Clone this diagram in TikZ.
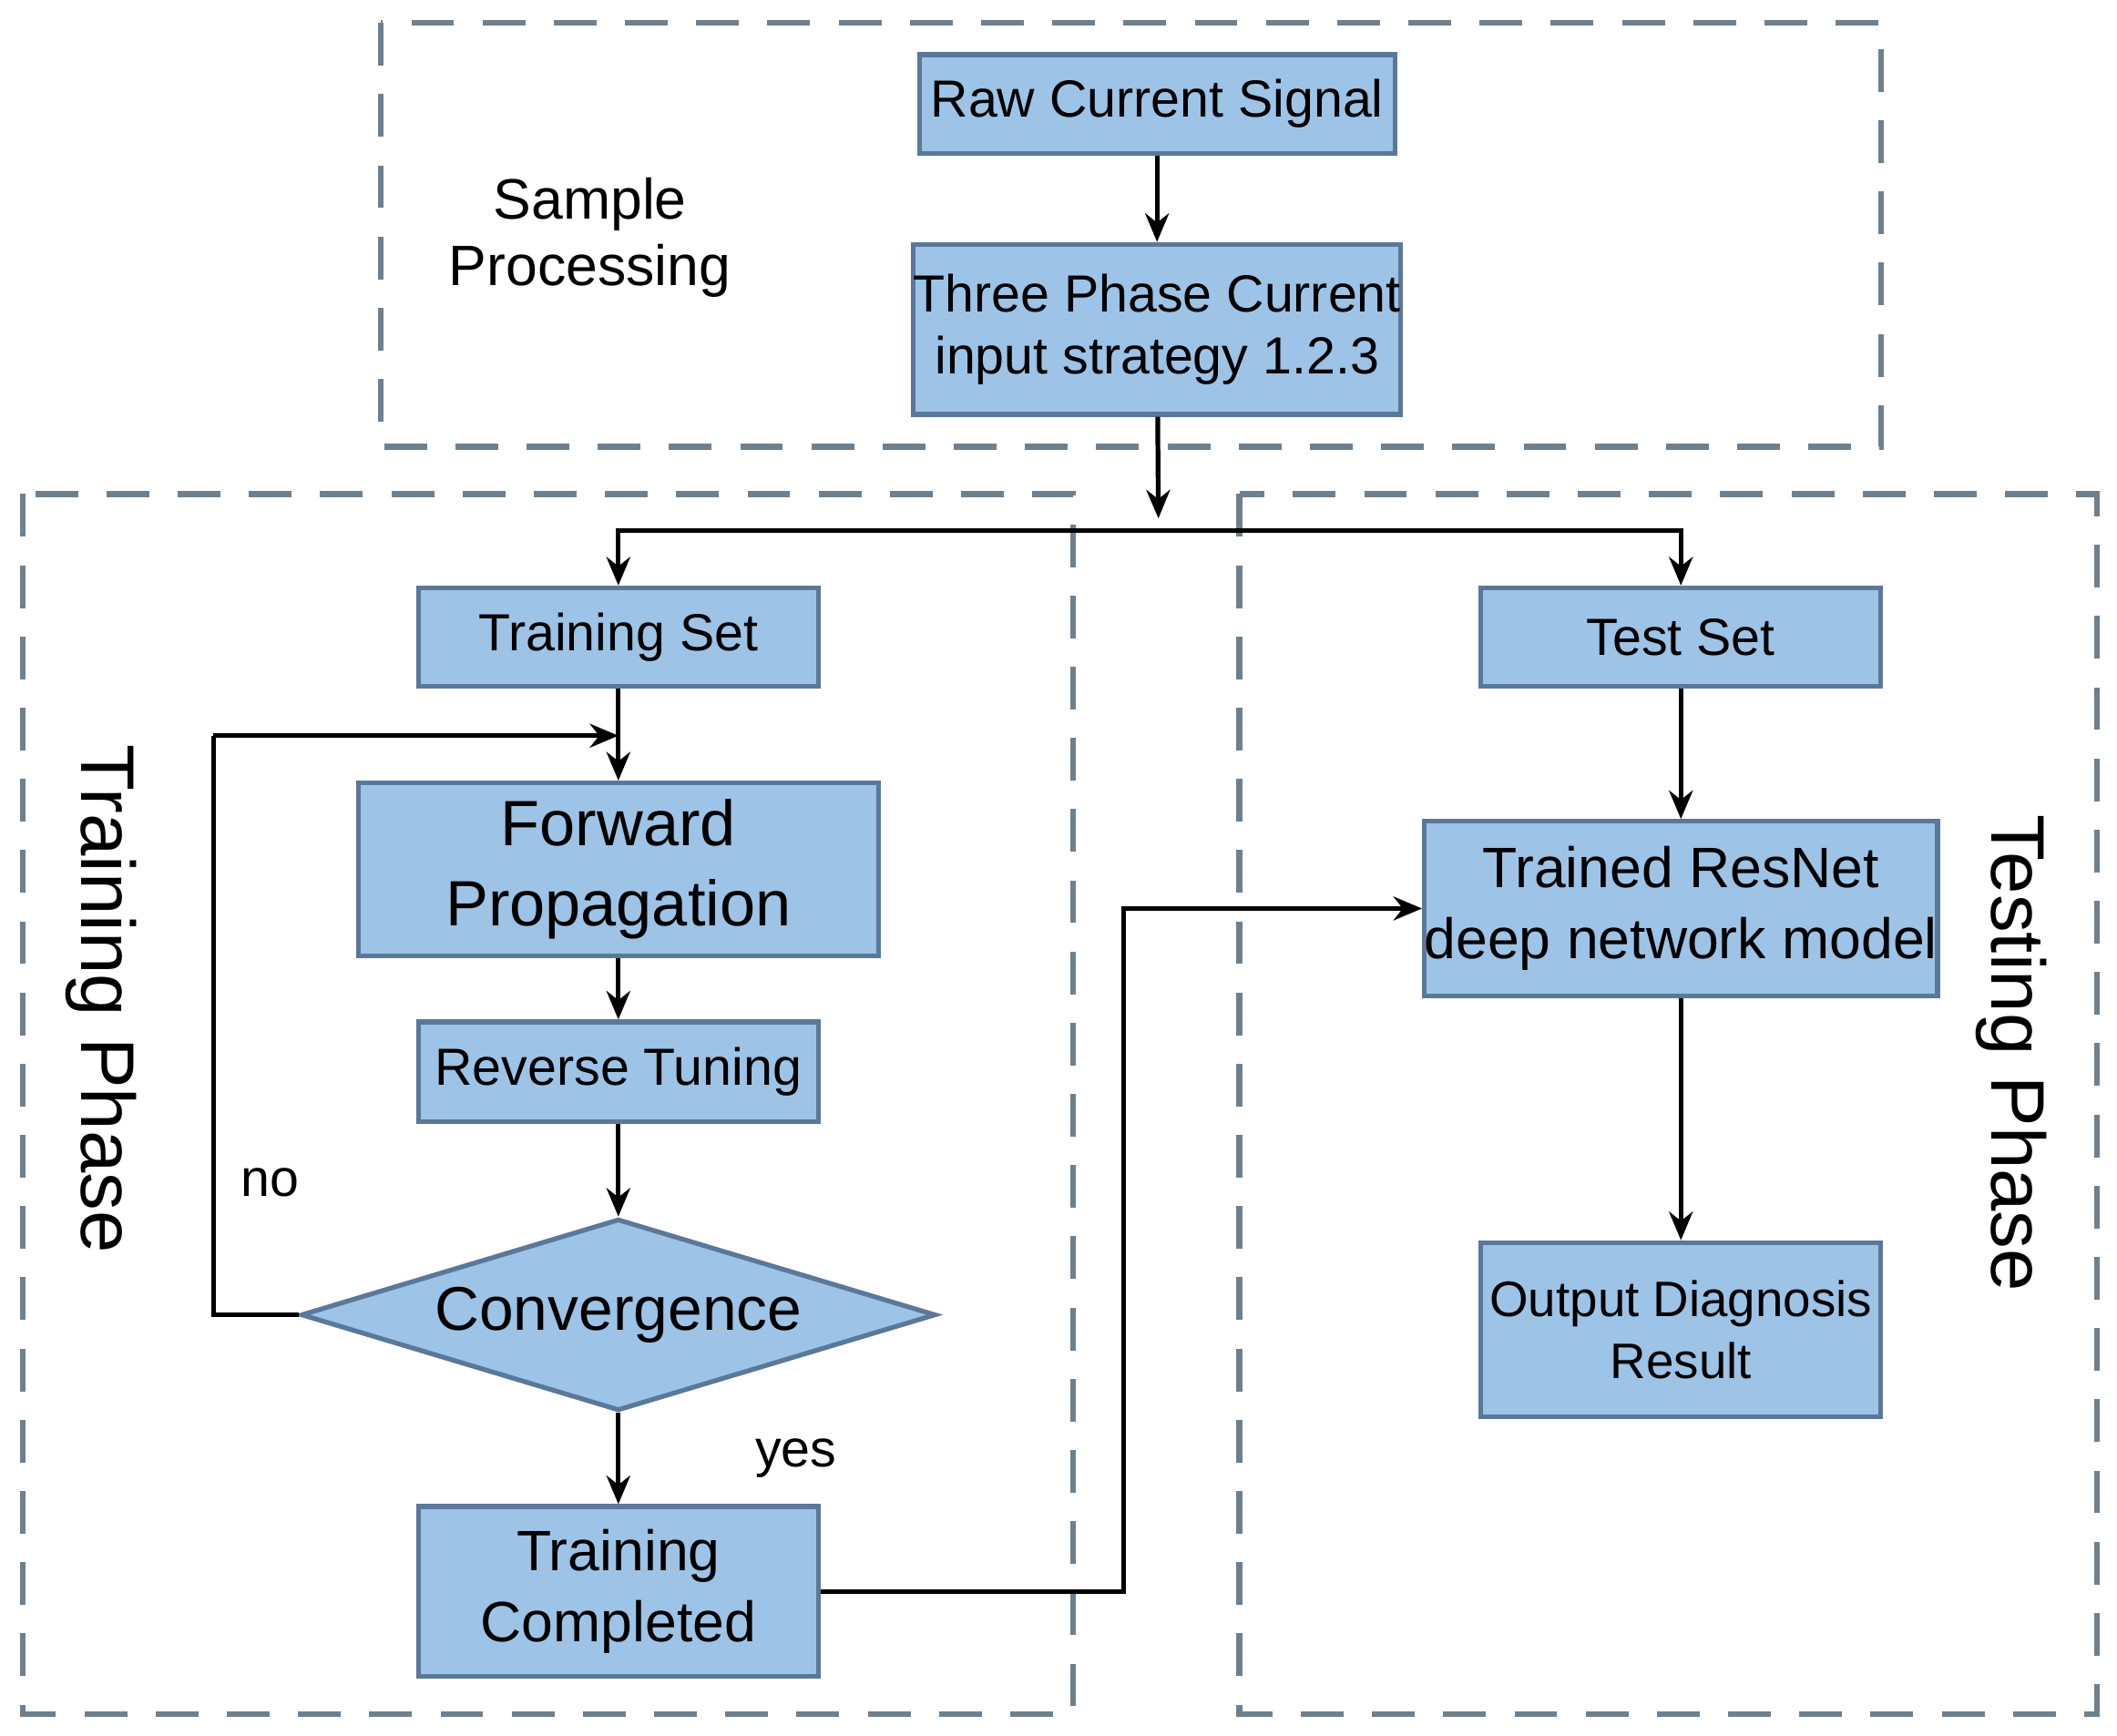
\documentclass[tikz,border=0pt]{standalone}
\usepackage{fontspec}
\setmainfont{Liberation Sans}
\usetikzlibrary{shapes.geometric,arrows.meta}
\begin{document}
\begin{tikzpicture}[x=0.01cm,y=-0.01cm,
  box/.style={draw=bd,fill=bf,line width=1pt,inner sep=0pt,align=center,font=\fontsize{11}{13}\selectfont},
  grp/.style={draw=gd,dash pattern=on 9pt off 6pt,line width=1.2pt},
  arr/.style={-{Stealth[length=6pt,width=5pt]},line width=1pt},
  ln/.style={line width=1pt}]
\definecolor{bf}{HTML}{9DC3E6}\definecolor{bd}{HTML}{5A7899}\definecolor{gd}{HTML}{6E808E}
\useasboundingbox (0,0) rectangle (1568,1286);
\draw[grp] (282,17) rectangle (1393,331);
\draw[grp] (17,366) rectangle (795,1270);
\draw[grp] (918,366) rectangle (1553,1270);
\node[align=center,font=\fontsize{12}{14}\selectfont] (sp) at (437,176) {Sample\\Processing};
\node[rotate=-90,font=\fontsize{16}{18}\selectfont] (tp) at (75,740) {Training Phase};
\node[rotate=-90,font=\fontsize{16}{18}\selectfont] (tsp) at (1490,780) {Testing Phase};
\node[box,minimum width=3.52cm,minimum height=0.73cm] (raw) at (857,77) {Raw Current Signal};
\node[box,minimum width=3.52cm,minimum height=1.26cm] (three) at (857,244) {Three Phase Current\\input strategy 1.2.3};
\node[box,minimum width=2.96cm,minimum height=0.73cm] (ts) at (458,472) {Training Set};
\node[box,minimum width=3.85cm,minimum height=1.28cm,font=\fontsize{13.5}{17}\selectfont] (fp) at (458,644) {Forward\\Propagation};
\node[box,minimum width=2.96cm,minimum height=0.74cm] (rt) at (458,794) {Reverse Tuning};
\node[box,diamond,inner sep=0pt,minimum width=4.7cm,minimum height=1.42cm,aspect=3.3] (cv) at (458,974) {\fontsize{13}{15}\selectfont Convergence};
\node[box,minimum width=2.96cm,minimum height=1.26cm,font=\fontsize{12}{15}\selectfont] (tc) at (458,1179) {Training\\Completed};
\node[box,minimum width=2.96cm,minimum height=0.73cm] (test) at (1245,472) {Test Set};
\node[box,minimum width=3.76cm,minimum height=1.29cm,font=\fontsize{12}{15}\selectfont] (res) at (1245,673) {Trained ResNet\\deep network model};
\node[box,minimum width=2.96cm,minimum height=1.29cm,font=\fontsize{10.5}{13}\selectfont] (out) at (1245,985) {Output Diagnosis\\Result};
\coordinate (sp1) at (858,393);
\coordinate (nl) at (158,974);
\coordinate (nt) at (158,545);
\coordinate (ni) at (458,545);
\coordinate (tr) at (832,1179);
\coordinate (tu) at (832,673);
\draw[arr] (raw) -- (three);
\draw[arr] (three) -- (858,384);
\draw[ln] (457,393) -- (1245,393);
\draw[arr] (sp1) -| (ts.north);
\draw[arr] (sp1) -| (test.north);
\draw[arr] (ts) -- (fp);
\draw[arr] (fp) -- (rt);
\draw[arr] (rt) -- (cv);
\draw[arr] (cv) -- node[right,xshift=25,font=\fontsize{11}{13}\selectfont]{yes} (tc);
\draw[ln] (cv.west) -- (nl) -- (nt);
\draw[arr] (nt) -- (ni);
\node[font=\fontsize{11}{13}\selectfont] (no) at (200,876) {no};
\draw[arr] (tc.east) -- (tr) -- (tu) -- (res.west);
\draw[arr] (test) -- (res);
\draw[arr] (res) -- (out);
\end{tikzpicture}
\end{document}
